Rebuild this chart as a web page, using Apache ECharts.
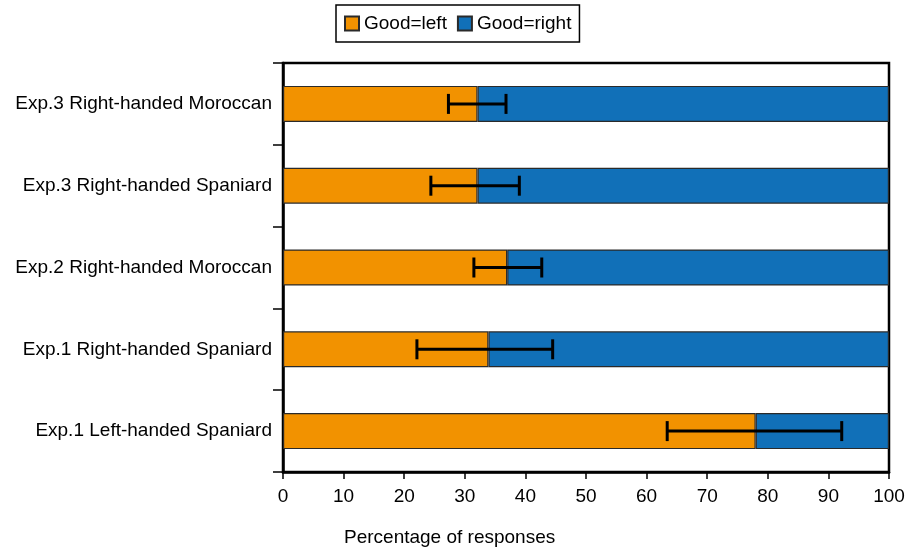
<!DOCTYPE html>
<html>
<head>
<meta charset="utf-8">
<script src="https://cdn.jsdelivr.net/npm/echarts@6/dist/echarts.min.js"></script>
<style>html,body{margin:0;padding:0;background:#fff}#c{width:914px;height:550px}</style>
</head>
<body>
<div id="c"></div>
<script>
var categories = ["Exp.1 Left-handed Spaniard", "Exp.1 Right-handed Spaniard", "Exp.2 Right-handed Moroccan", "Exp.3 Right-handed Spaniard", "Exp.3 Right-handed Moroccan"];
var goodLeft = [78.0, 33.9, 37.0, 32.1, 32.1];
var goodRight = [22.0, 66.1, 63.0, 67.9, 67.9];
var errLow = [63.4, 22.1, 31.5, 24.4, 27.3];
var errHigh = [92.2, 44.5, 42.7, 39.0, 36.8];
var xTicks = [0, 10, 20, 30, 40, 50, 60, 70, 80, 90, 100];

var FONT = "'Liberation Sans', Arial, sans-serif";
var chart = echarts.init(document.getElementById('c'), null, {renderer: 'canvas'});
var errData = categories.map(function (c, i) { return [i, errLow[i], errHigh[i]]; });

chart.setOption({
  animation: false,
  backgroundColor: '#fff',
  legend: {
    left: 336, top: 5,
    padding: [9, 8, 9, 8],
    borderColor: '#000', borderWidth: 1.5,
    itemWidth: 14, itemHeight: 14, itemGap: 10,
    icon: 'rect',
    textStyle: {fontFamily: FONT, fontSize: 19, color: '#000'},
    data: ['Good=left', 'Good=right']
  },
  grid: {left: 283, right: 25, top: 63, bottom: 78, show: true, borderColor: '#000', borderWidth: 2.5, backgroundColor: 'transparent'},
  xAxis: {
    type: 'value', min: xTicks[0], max: xTicks[xTicks.length - 1], interval: 10,
    axisLine: {show: true, lineStyle: {color: '#000', width: 2.5}},
    axisTick: {show: true, length: 7, lineStyle: {color: '#000', width: 1.5}},
    axisLabel: {fontFamily: FONT, fontSize: 19, color: '#000', margin: 15},
    splitLine: {show: false}
  },
  yAxis: {
    type: 'category', data: categories,
    axisLine: {show: true, lineStyle: {color: '#000', width: 2.5}},
    axisTick: {show: true, length: 10, alignWithLabel: false, lineStyle: {color: '#000', width: 1.5}},
    axisLabel: {fontFamily: FONT, fontSize: 19, color: '#000', margin: 11}
  },
  graphic: [{
    type: 'text', left: 344, top: 528,
    style: {text: 'Percentage of responses', font: '19px ' + FONT, fill: '#000'}
  }],
  series: [
    {
      name: 'Good=left', type: 'bar', stack: 'a', data: goodLeft, barWidth: 36,
      itemStyle: {color: '#F29200', borderColor: '#2a2a2a', borderWidth: 1.2}
    },
    {
      name: 'Good=right', type: 'bar', stack: 'a', data: goodRight, barWidth: 36,
      itemStyle: {color: '#1170B8', borderColor: '#2a2a2a', borderWidth: 1.2}
    },
    {
      type: 'custom', name: 'err', z: 10, data: errData,
      renderItem: function (params, api) {
        var y = api.value(0);
        var p1 = api.coord([api.value(1), y]);
        var p2 = api.coord([api.value(2), y]);
        var h = 10;
        var st = {stroke: '#000', lineWidth: 3};
        return {type: 'group', children: [
          {type: 'line', shape: {x1: p1[0], y1: p1[1], x2: p2[0], y2: p2[1]}, style: st},
          {type: 'line', shape: {x1: p1[0], y1: p1[1] - h, x2: p1[0], y2: p1[1] + h}, style: st},
          {type: 'line', shape: {x1: p2[0], y1: p2[1] - h, x2: p2[0], y2: p2[1] + h}, style: st}
        ]};
      }
    }
  ]
});
</script>
</body>
</html>
